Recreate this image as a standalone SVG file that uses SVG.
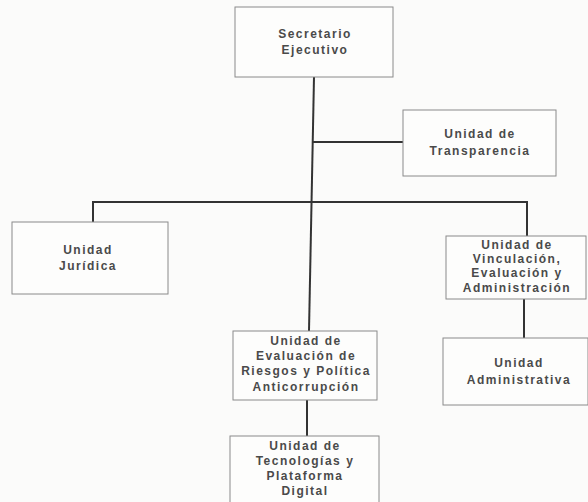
<svg xmlns="http://www.w3.org/2000/svg" width="588" height="502" viewBox="0 0 588 502">
<style>
.box{fill:#fdfdfc;stroke:#8a8a8a;stroke-width:1}
.t{font-family:"Liberation Sans",Arial,sans-serif;font-size:12px;font-weight:bold;fill:#4a4a4a;letter-spacing:1.5px;text-anchor:middle}
.c{stroke:#333;stroke-width:2;fill:none}
</style>
<rect width="588" height="502" fill="#fbfbfa"/>
<g id="connectors">
<path class="c" d="M314 77 L309 331"/>
<path class="c" d="M313 142 H403"/>
<path class="c" d="M93 222 V202 H527 V236"/>
<path class="c" d="M524 299 V338"/>
<path class="c" d="M307 400 V436"/>
</g>
<g id="secretario">
<rect class="box" x="235" y="7" width="158" height="70"/>
<text class="t" x="315" y="38">Secretario</text>
<text class="t" x="315" y="54">Ejecutivo</text>
</g>
<g id="transparencia">
<rect class="box" x="403" y="110" width="153" height="66"/>
<text class="t" x="480" y="138">Unidad de</text>
<text class="t" x="480" y="155">Transparencia</text>
</g>
<g id="juridica">
<rect class="box" x="12" y="222" width="156" height="72"/>
<text class="t" x="88" y="254">Unidad</text>
<text class="t" x="88" y="270">Jurídica</text>
</g>
<g id="vinculacion">
<rect class="box" x="446" y="236" width="140" height="63"/>
<text class="t" x="517" y="249">Unidad de</text>
<text class="t" x="517" y="263">Vinculación,</text>
<text class="t" x="517" y="277">Evaluación y</text>
<text class="t" x="517" y="292">Administración</text>
</g>
<g id="administrativa">
<rect class="box" x="443" y="338" width="145" height="67"/>
<text class="t" x="519" y="367">Unidad</text>
<text class="t" x="519" y="384">Administrativa</text>
</g>
<g id="evaluacion">
<rect class="box" x="233" y="331" width="144" height="69"/>
<text class="t" x="306" y="345">Unidad de</text>
<text class="t" x="306" y="360">Evaluación de</text>
<text class="t" x="306" y="375">Riesgos y Política</text>
<text class="t" x="306" y="391">Anticorrupción</text>
</g>
<g id="tecnologias">
<rect class="box" x="230" y="436" width="149" height="70"/>
<text class="t" x="305" y="450">Unidad de</text>
<text class="t" x="305" y="465">Tecnologías y</text>
<text class="t" x="305" y="480">Plataforma</text>
<text class="t" x="305" y="495">Digital</text>
</g>
</svg>
